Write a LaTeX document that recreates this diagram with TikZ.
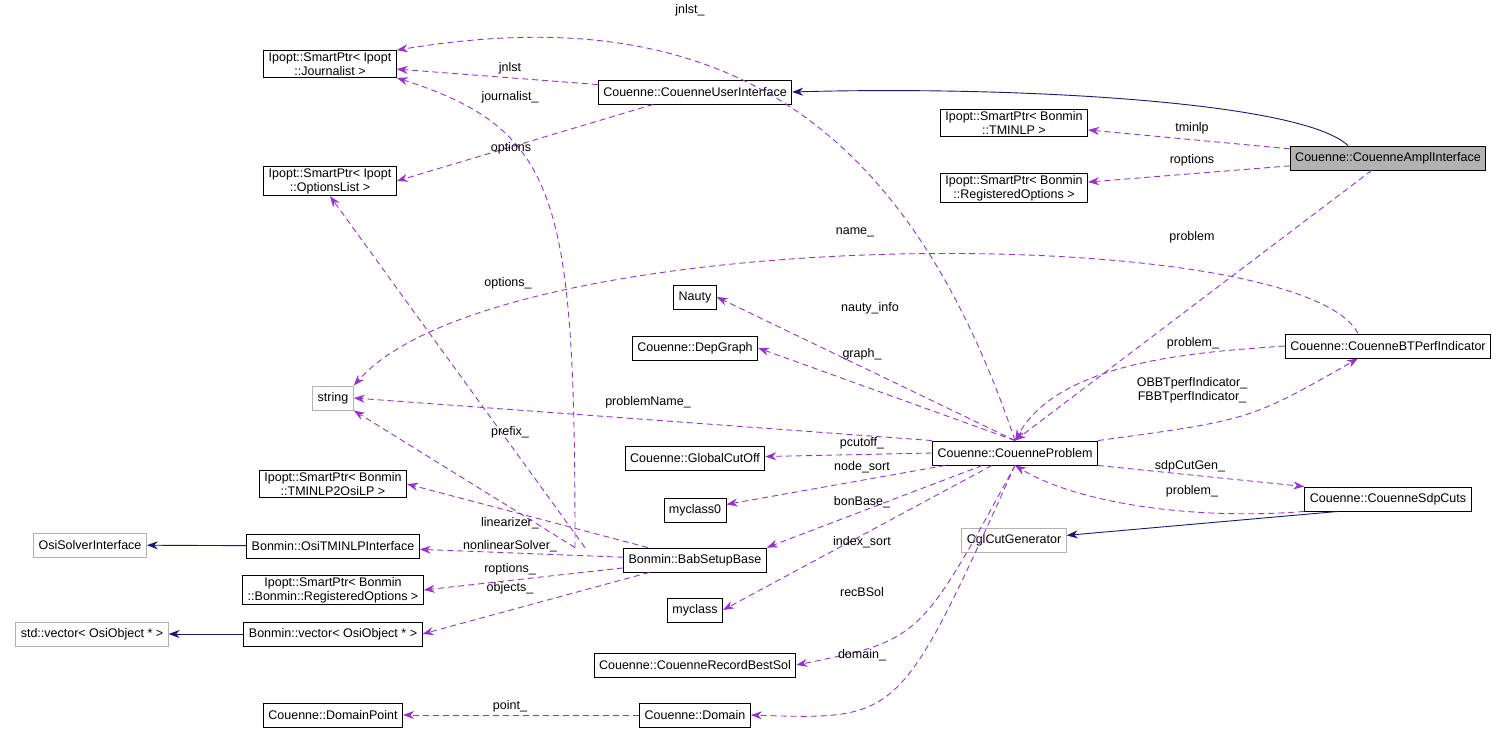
\documentclass[tikz,border=0pt]{standalone}
\usepackage{fontspec}
\setmainfont{Liberation Sans}
\usetikzlibrary{arrows.meta}
\definecolor{edgepurple}{RGB}{153,50,204}
\definecolor{edgenavy}{RGB}{25,25,112}
\tikzset{
  class node/.style={
    draw,
    fill=white,
    align=center,
    inner xsep=5pt,
    inner ysep=2pt,
    minimum height=24pt,
    line width=0.9pt,
    font=\fontsize{12.5}{14}\selectfont,
  },
  ext node/.style={class node, draw=black!30},
  member edge/.style={draw=edgepurple, line width=0.9pt, dash pattern=on 6pt off 4pt, -{Stealth[length=11pt,width=8pt]}},
  inherit edge/.style={draw=edgenavy, line width=0.9pt, -{Stealth[length=11pt,width=8pt]}},
  edge label/.style={font=\fontsize{12.5}{14}\selectfont, align=center, inner sep=1pt},
}

\begin{document}
\begin{tikzpicture}[x=1pt, y=-1pt]
        \useasboundingbox (0,0) rectangle (1507,733);
        % classes
        \node[class node] (jour)      at (330,64)  {Ipopt::SmartPtr< Ipopt\\::Journalist >};
        \node[class node] (cui)       at (695,92)  {Couenne::CouenneUserInterface};
        \node[class node] (tminlp)    at (1014,123) {Ipopt::SmartPtr< Bonmin\\::TMINLP >};
        \node[class node, fill=black!30] (ampl) at (1388,158) {Couenne::CouenneAmplInterface};
        \node[class node] (optlist)   at (330,181) {Ipopt::SmartPtr< Ipopt\\::OptionsList >};
        \node[class node] (regopt)    at (1014,188) {Ipopt::SmartPtr< Bonmin\\::RegisteredOptions >};
        \node[class node] (nauty)     at (695,297) {Nauty};
        \node[class node] (depgraph)  at (695,348) {Couenne::DepGraph};
        \node[class node] (btperf)    at (1388,346) {Couenne::CouenneBTPerfIndicator};
        \node[ext node]   (string)    at (333,398) {string};
        \node[class node] (problem)   at (1015,453) {Couenne::CouenneProblem};
        \node[class node] (gcut)      at (695,458) {Couenne::GlobalCutOff};
        \node[class node] (tm2osi)    at (333,484) {Ipopt::SmartPtr< Bonmin\\::TMINLP2OsiLP >};
        \node[class node] (myclass0)  at (695,510) {myclass0};
        \node[class node] (sdp)       at (1388,499) {Couenne::CouenneSdpCuts};
        \node[ext node]   (osisolver) at (90,545)  {OsiSolverInterface};
        \node[class node] (ositminlp) at (333,546) {Bonmin::OsiTMINLPInterface};
        \node[ext node]   (cgl)       at (1014,540) {CglCutGenerator};
        \node[class node] (bab)       at (695,560) {Bonmin::BabSetupBase};
        \node[class node] (bonregopt) at (333,590) {Ipopt::SmartPtr< Bonmin\\::Bonmin::RegisteredOptions >};
        \node[class node] (myclass)   at (695,610) {myclass};
        \node[ext node]   (stdvec)    at (92,634)  {std::vector< OsiObject * >};
        \node[class node] (bonvec)    at (333,634) {Bonmin::vector< OsiObject * >};
        \node[class node] (recbest)   at (695,665) {Couenne::CouenneRecordBestSol};
        \node[class node] (dompoint)  at (333,715) {Couenne::DomainPoint};
        \node[class node] (domain)    at (695,715) {Couenne::Domain};

        % inheritance
        \draw[inherit edge] ([xshift=-40pt]ampl.north) .. controls (1300,100) and (1000,86) .. (cui.east);
        \draw[inherit edge] (ositminlp) -- (osisolver);
        \draw[inherit edge] (bonvec) -- (stdvec);
        \draw[inherit edge] ([xshift=-50pt]sdp.south) -- (cgl);

        % members
        \draw[member edge] (cui) -- (jour);
        \draw[member edge] (problem.north) .. controls (900,100) and (700,0) .. (jour.north east);
        \draw[member edge] ([xshift=-120pt]bab.north) .. controls (575,200) and (560,130) .. (jour.south east);
        \draw[member edge] (cui) -- (optlist.east);
        \draw[member edge] ([xshift=-110pt]bab.north) -- (optlist.south);
        \draw[member edge] (ampl) -- (tminlp);
        \draw[member edge] (ampl) -- (regopt);
        \draw[member edge] (ampl) -- (problem.north);
        \draw[member edge] ([xshift=-30pt]btperf.north) .. controls (1300,220) and (500,220) .. (string.north east);
        \draw[member edge] (problem.north) -- (nauty.east);
        \draw[member edge] (problem.north) -- (depgraph.east);
        \draw[member edge] (problem.north west) -- (string.east);
        \draw[member edge] ([xshift=-120pt]bab.north) -- (string.south east);
        \draw[member edge] (btperf.west) .. controls (1200,352) and (1060,360) .. (problem.north);
        \draw[member edge] (problem.north east) .. controls (1250,420) .. ([xshift=-30pt]btperf.south);
        \draw[member edge] (problem.west) -- (gcut);
        \draw[member edge] (problem) -- (myclass0);
        \draw[member edge] (problem) -- (bab.north east);
        \draw[member edge] (problem.south east) -- (sdp.north west);
        \draw[member edge] (sdp.south west) .. controls (1200,520) and (1080,505) .. (problem.south);
        \draw[member edge] (problem) -- (myclass.east);
        \draw[member edge] (problem.south) .. controls (920,640) .. (recbest.east);
        \draw[member edge] (problem.south) .. controls (900,720) .. (domain.east);
        \draw[member edge] (bab) -- (tm2osi.east);
        \draw[member edge] (bab) -- (ositminlp);
        \draw[member edge] (bab) -- (bonregopt.east);
        \draw[member edge] (bab) -- (bonvec.east);
        \draw[member edge] (domain) -- (dompoint);

        % labels
        \node[edge label] (l-jnlst)     at (510,68)   {jnlst};
        \node[edge label] (l-jnlst2)    at (690,10)   {jnlst\_};
        \node[edge label] (l-journal)   at (510,97)   {journalist\_};
        \node[edge label] (l-options)   at (511,148)  {options};
        \node[edge label] (l-options2)  at (508,283)  {options\_};
        \node[edge label] (l-tminlp)    at (1192,128) {tminlp};
        \node[edge label] (l-roptions)  at (1192,160) {roptions};
        \node[edge label] (l-problem)   at (1192,237) {problem};
        \node[edge label] (l-name)      at (855,232)  {name\_};
        \node[edge label] (l-nauty)     at (870,308)  {nauty\_info};
        \node[edge label] (l-graph)     at (862,354)  {graph\_};
        \node[edge label] (l-pname)     at (648,402)  {problemName\_};
        \node[edge label] (l-prefix)    at (510,432)  {prefix\_};
        \node[edge label] (l-problem2)  at (1193,343) {problem\_};
        \node[edge label] (l-perf)      at (1192,390) {OBBTperfIndicator\_\\FBBTperfIndicator\_};
        \node[edge label] (l-pcutoff)   at (862,443)  {pcutoff\_};
        \node[edge label] (l-nodesort)  at (862,467)  {node\_sort};
        \node[edge label] (l-bonbase)   at (862,502)  {bonBase\_};
        \node[edge label] (l-sdpgen)    at (1190,466) {sdpCutGen\_};
        \node[edge label] (l-problem3)  at (1192,491) {problem\_};
        \node[edge label] (l-idxsort)   at (862,542)  {index\_sort};
        \node[edge label] (l-recbsol)   at (862,592)  {recBSol};
        \node[edge label] (l-domain)    at (862,655)  {domain\_};
        \node[edge label] (l-linear)    at (510,523)  {linearizer\_};
        \node[edge label] (l-nlsolver)  at (510,546)  {nonlinearSolver\_};
        \node[edge label] (l-roptions2) at (510,569)  {roptions\_};
        \node[edge label] (l-objects)   at (510,588)  {objects\_};
        \node[edge label] (l-point)     at (510,706)  {point\_};
\end{tikzpicture}
\end{document}
